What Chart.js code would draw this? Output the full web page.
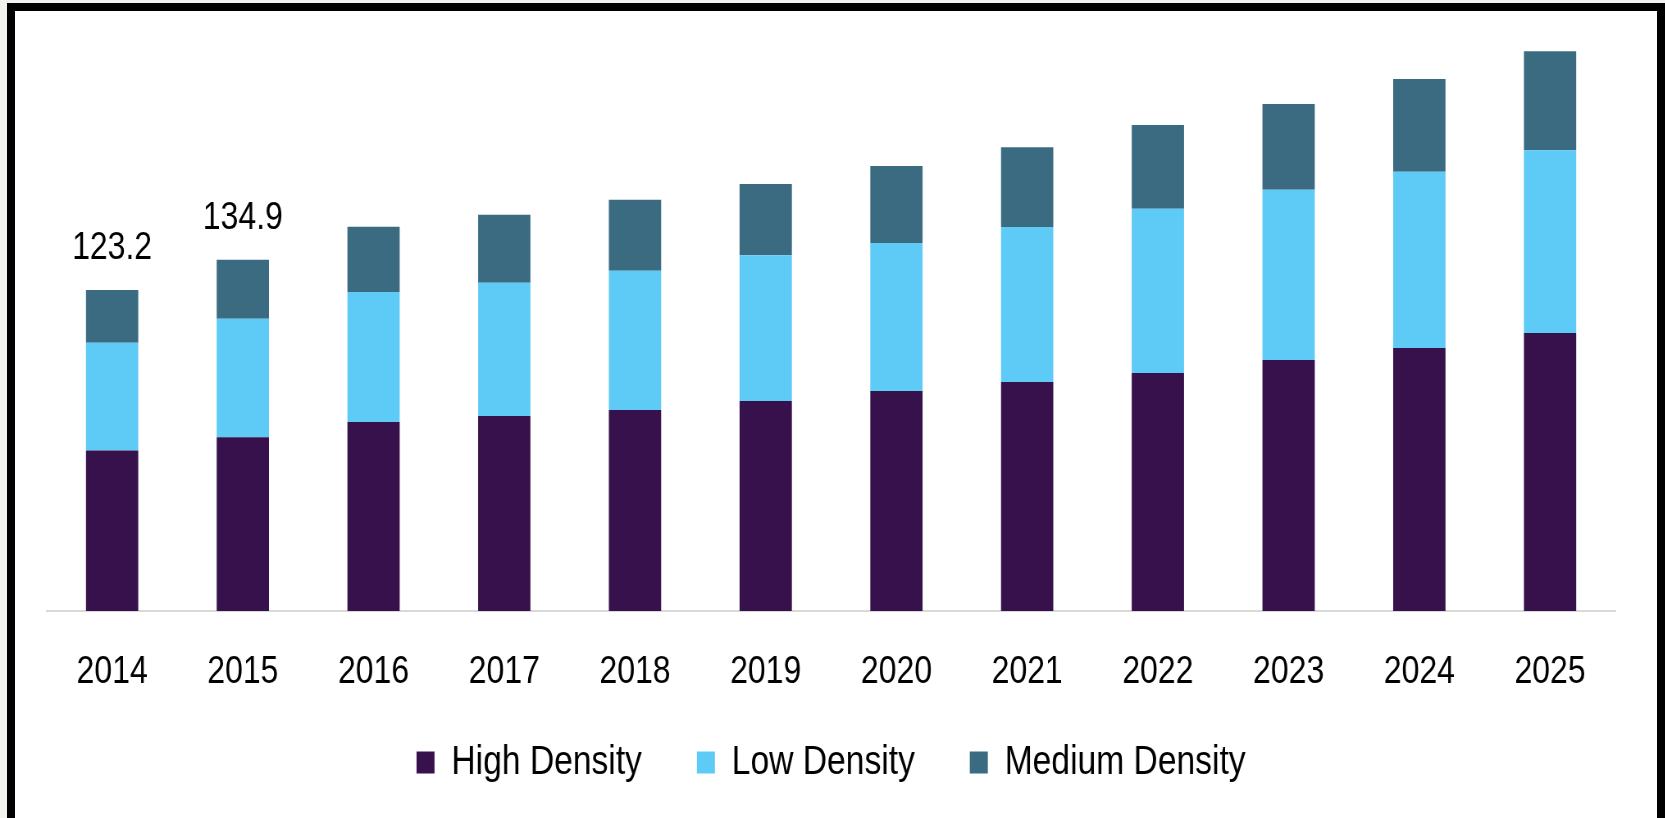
<!DOCTYPE html>
<html>
<head>
<meta charset="utf-8">
<script src="https://cdn.jsdelivr.net/npm/chart.js@4.4.1/dist/chart.umd.min.js"></script>
<style>
  html, body { margin: 0; padding: 0; background: #f2f2ee; overflow: hidden; }
  #frame {
    position: absolute; left: 7px; top: 3px; width: 1658px; height: 823px;
    box-sizing: border-box; border: 8px solid #000; background: #fff;
  }
  /* the source picture is squeezed sideways, so the chart is laid out wider and scaled back */
  #box {
    position: absolute; left: 0; top: 0; width: 2031px; height: 818px;
    transform: scaleX(0.82); transform-origin: 0 0;
  }
</style>
</head>
<body>
<div id="frame"></div>
<div id="box"><canvas id="densityChart"></canvas></div>

<script>

const years = ["2014", "2015", "2016", "2017", "2018", "2019", "2020", "2021", "2022", "2023", "2024", "2025"];

const highDensity   = [61.6, 66.7, 72.6, 74.9, 77.2, 80.6, 84.5, 87.9, 91.4, 96.4, 101.0, 106.7];
const lowDensity    = [41.4, 45.5, 49.9, 51.1, 53.4, 56.0, 56.8, 59.5, 63.0, 65.3, 67.6, 70.2];
const mediumDensity = [20.2, 22.7, 25.0, 26.1, 27.3, 27.3, 29.6, 30.7, 32.2, 33.0, 35.7, 38.0];

// only these years carry a total above the bar
const labelledYears = ["2014", "2015"];

const textFont = "'Liberation Sans', Arial, sans-serif";

Chart.defaults.font.family = textFont;
Chart.defaults.color = "#000";

const totalLabels = {
  id: "totalLabels",
  afterDatasetsDraw(chart){
    const ctx = chart.ctx;
    const xScale = chart.scales.x;
    const yScale = chart.scales.y;
    ctx.save();
    ctx.font = "39px " + textFont;
    ctx.fillStyle = "#000";
    ctx.textAlign = "center";
    ctx.textBaseline = "alphabetic";
    years.forEach((yr, i) => {
      if(labelledYears.indexOf(yr) < 0) return;
      let total = highDensity[i] + lowDensity[i] + mediumDensity[i];
      let x = xScale.getPixelForValue(i);
      let y = yScale.getPixelForValue(total);
      ctx.fillText(total.toFixed(1), x, y - 31);
    });
    ctx.restore();
  }
};

// pull the legend a little closer to the year labels
const legendLift = {
  id: "legendLift",
  afterLayout(chart){
    if(!chart.legend) return;
    chart.legend.top -= 14;
    chart.legend.bottom -= 14;
  }
};

function renderChart(){

  const ctx = document.getElementById("densityChart").getContext("2d");

  new Chart(ctx, {
    type: "bar",
    data: {
      labels: years,
      datasets: [
        { label: "High Density", data: highDensity, backgroundColor: "#37114b" },
        { label: "Low Density", data: lowDensity, backgroundColor: "#5ecaf6" },
        { label: "Medium Density", data: mediumDensity, backgroundColor: "#3b6b81" }
      ]
    },
    options: {
      responsive: true,
      maintainAspectRatio: false,
      animation: false,
      datasets: {
        bar: { categoryPercentage: 0.8, barPercentage: 0.5 }
      },
      layout: {
        padding: { left: 57, right: 61, top: 38, bottom: 11 }
      },
      plugins: {
        legend: {
          position: "bottom",
          labels: {
            font: { size: 41 },
            color: "#000",
            boxWidth: 22,
            boxHeight: 22,
            padding: 67
          }
        },
        tooltip: { enabled: false }
      },
      scales: {
        x: {
          stacked: true,
          grid: { display: false, drawTicks: false },
          border: { color: "#d9d9d9", width: 2 },
          ticks: { font: { size: 39 }, color: "#000", padding: 38, maxRotation: 0 },
          afterFit(scale){
            scale.height = 78;
          }
        },
        y: {
          stacked: true,
          display: false,
          min: 0,
          max: 220
        }
      }
    },
    plugins: [totalLabels, legendLift]
  });

}

renderChart();

</script>
</body>
</html>
